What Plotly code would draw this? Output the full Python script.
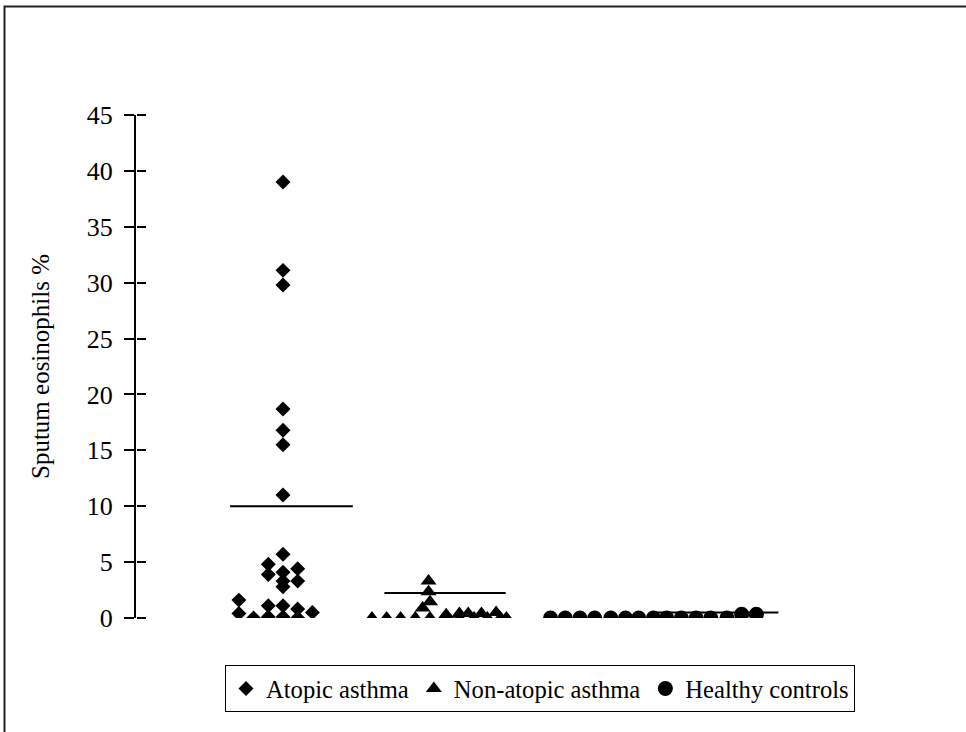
import plotly.graph_objects as go

# ---- data (values in %, x = column slot within the dot plot) ----
atopic_vals = [39.0, 31.1, 29.8, 18.7, 16.8, 15.5, 11.0,
               5.7, 4.8, 4.1, 3.9, 4.4, 3.3, 3.3, 2.8,
               1.6, 0.4, 0.0, 1.1, 0.1, 1.1, 0.1, 0.8, 0.0, 0.5]
atopic_x = [10, 10, 10, 10, 10, 10, 10,
            10, 9, 10, 9, 11, 11, 10, 10,
            7, 7, 8, 9, 9, 10, 10, 11, 11, 12]
atopic_mean = 10.0

nonatopic_vals = [0.0, 0.0, 0.0, 0.0, 0.9, 0.0, 3.3, 2.35, 1.45,
                  0.0, 0.3, 0.0, 0.4, 0.0, 0.4, 0.0, 0.4, 0.0, 0.5, 0.0]
nonatopic_x = [16.05, 17.05, 18.0, 19.0, 19.5, 20.0, 19.9, 19.9, 20.0,
               21.0, 21.1, 22.0, 22.0, 23.0, 22.6, 23.9, 23.5, 24.8, 24.5, 25.2]
nonatopic_mean = 2.24

healthy_vals = [0.0] * 13 + [0.33, 0.33]
healthy_x = [28.2, 29.2, 30.2, 31.2, 32.3, 33.3, 34.2, 35.2, 36.1, 37.1,
             38.1, 39.1, 40.2, 41.2, 42.2]
healthy_mean = 0.5

# mean-line extents in slot units
atopic_line = [6.4, 14.75]
nonatopic_line = [16.9, 25.15]
healthy_line = [35.4, 43.7]

y_ticks = [0, 5, 10, 15, 20, 25, 30, 35, 40, 45]

FONT = "Times New Roman, Liberation Serif, serif"

fig = go.Figure()
fig.add_trace(go.Scatter(x=atopic_x, y=atopic_vals, mode="markers", name="Atopic asthma",
                         marker=dict(symbol="diamond", size=11.5, color="black")))
fig.add_trace(go.Scatter(x=nonatopic_x, y=nonatopic_vals, mode="markers", name="Non-atopic asthma",
                         marker=dict(symbol="triangle-up", size=14, color="black")))
fig.add_trace(go.Scatter(x=healthy_x, y=healthy_vals, mode="markers", name="Healthy controls",
                         marker=dict(symbol="circle", size=15, color="black")))
for line, m in [(atopic_line, atopic_mean), (nonatopic_line, nonatopic_mean), (healthy_line, healthy_mean)]:
    fig.add_trace(go.Scatter(x=line, y=[m, m], mode="lines", showlegend=False,
                             line=dict(color="black", width=2), hoverinfo="skip"))
# dummy trace for right-pointing tick marks
fig.add_trace(go.Scatter(x=[None], y=[None], yaxis="y2", showlegend=False))

# outer border
fig.add_shape(type="rect", xref="paper", yref="paper",
              x0=(4.5 - 136) / 714, x1=(975 - 136) / 714,
              y0=(618 - 745) / 503, y1=(618 - 6.5) / 503,
              line=dict(color="#222", width=2), fillcolor="rgba(0,0,0,0)", layer="below")

fig.update_layout(
    width=966, height=732,
    margin=dict(l=136, r=116, t=115, b=114),
    paper_bgcolor="white", plot_bgcolor="white",
    font=dict(family=FONT, color="black"),
    xaxis=dict(range=[0, 714 / 14.7], visible=False),
    yaxis=dict(range=[0, 45], tickvals=y_ticks, ticks="outside", ticklen=10, tickwidth=2,
               tickcolor="black", showline=True, linecolor="black", linewidth=2,
               showgrid=False, zeroline=False, tickfont=dict(size=26, family=FONT),
               ticklabelstandoff=6,
               title=dict(text="Sputum eosinophils %", font=dict(size=25, family=FONT), standoff=30)),
    yaxis2=dict(range=[0, 45], tickvals=y_ticks, ticks="outside", ticklen=9, tickwidth=2,
                tickcolor="black", overlaying="y", side="right", anchor="free", position=0,
                showticklabels=False, showgrid=False, zeroline=False, showline=False),
    legend=dict(orientation="h", x=(225 - 136) / 714, xanchor="left", y=(618 - 665) / 503, yanchor="top",
                bordercolor="black", borderwidth=1, font=dict(size=24.6, family=FONT),
                itemwidth=30, tracegroupgap=0),
    showlegend=True,
)

fig.write_html("out.html")
